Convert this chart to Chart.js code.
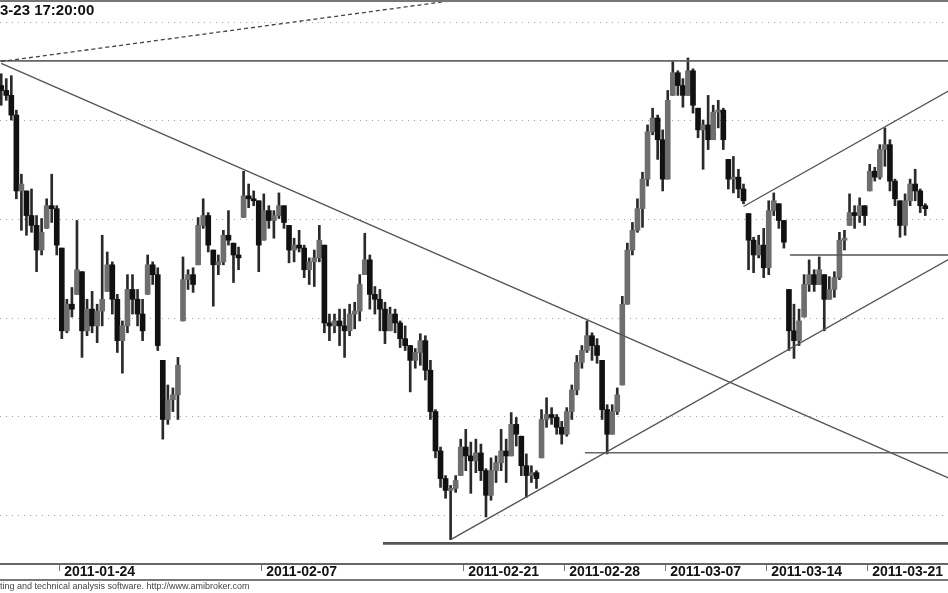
<!DOCTYPE html>
<html><head><meta charset="utf-8">
<script src="https://cdn.jsdelivr.net/npm/chart.js@4.4.1/dist/chart.umd.min.js"></script>
<style>
html,body{margin:0;padding:0;background:#fff;}
#wrap{position:relative;width:948px;height:593px;overflow:hidden;background:#fff;}
#c{position:absolute;left:0;top:0;}
#title{position:absolute;left:0;top:1px;font:bold 15px "Liberation Sans",Arial,sans-serif;line-height:17px;color:#111;white-space:nowrap;}
#foot{position:absolute;left:0;top:582px;font:9px "Liberation Sans",Arial,sans-serif;line-height:9px;color:#444;white-space:nowrap;}
</style></head><body>
<div id="wrap"><canvas id="c" width="948" height="593"></canvas>
<div id="title">3-23 17:20:00</div>
<div id="foot">ting and technical analysis software. http://www.amibroker.com</div></div>
<script>
// week labels and the bar index where each week starts (4 bars per session)
const tickLabels = ['2011-01-24','2011-02-07','2011-02-21','2011-02-28','2011-03-07','2011-03-14','2011-03-21'];
const tickBars = [12, 52, 92, 112, 132, 152, 172];

const highs = [2824,2821.5,2823,2805.5,2773,2764.5,2765.5,2752,2750.5,2760.5,
2773,2757,2735.5,2709.5,2715.5,2749.5,2723.5,2709.5,2713.5,2707,
2742,2733.5,2728.5,2712,2698.5,2722,2722,2714.5,2709.5,2732,
2728.5,2725.5,2678.5,2666,2664.5,2680,2731,2724.5,2725.5,2751,
2760.5,2753.5,2734.5,2732,2744.5,2754.5,2738,2736,2774.5,2768,
2764.5,2759.5,2763,2757,2754.5,2763.5,2757,2747,2740.5,2744.5,
2737,2730.5,2734.5,2747,2737,2702,2702,2704.5,2704.5,2707,
2708,2722,2743,2732,2716,2714.5,2708,2705.5,2704.5,2698.5,
2696,2686,2684.5,2692,2691,2678.5,2653.5,2634.5,2620,2615,
2620,2638.5,2643.5,2637,2638.5,2636,2623.5,2629,2630,2643.5,
2638.5,2652,2649.5,2640,2631,2625,2622.5,2653.5,2659.5,2654.5,
2651,2647.5,2654.5,2666,2681,2686,2698.5,2692.5,2689.5,2678.5,
2656,2656,2664.5,2711,2738,2748.5,2760.5,2774,2798,2806.5,
2803,2795.5,2815.5,2830.5,2825.5,2821.5,2832,2826.5,2806.5,2800.5,
2813,2808,2810.5,2806.5,2780.5,2782,2775.5,2768,2753,2741,
2742,2745.5,2759.5,2763.5,2758,2749.5,2714.5,2707,2704.5,2722,
2729.5,2724.5,2731,2722,2721,2723.5,2743.5,2744.5,2763,2757,
2761,2757,2778,2776.5,2788,2796.5,2790.5,2770.5,2759.5,2763,
2770.5,2775.5,2765.5,2758];

const lows = [2808,2810.5,2800.5,2760.5,2744.5,2742,2743.5,2723.5,2732,2745.5,
2748.5,2732,2689.5,2692.5,2700.5,2712,2680,2691,2692.5,2687.5,
2696,2713.5,2702,2682.5,2672,2692.5,2702,2696,2688.5,2712,
2717,2683.5,2638.5,2646,2652.5,2648.5,2698.5,2714.5,2713,2727,
2745.5,2733.5,2706,2722,2727,2737,2718,2724.5,2751,2756,
2757,2723.5,2739.5,2745.5,2740.5,2750.5,2745.5,2728,2728.5,2733.5,
2720.5,2717,2716,2728.5,2692.5,2688.5,2692.5,2686,2680,2691,
2694.5,2698.5,2722,2704.5,2702,2693.5,2687,2693.5,2692.5,2685,
2683.5,2662.5,2674.5,2676,2668.5,2648.5,2629,2614,2608.5,2587.5,
2611.5,2620,2622.5,2611,2621.5,2617.5,2599,2607.5,2616.5,2622.5,
2616.5,2630,2635,2620,2609,2616.5,2613.5,2629,2644.5,2646,
2641,2636,2640,2648.5,2661,2674.5,2682.5,2678.5,2677,2648.5,
2631,2641,2651,2666,2707,2732,2743.5,2746,2767,2793,
2780.5,2764.5,2770.5,2813,2813,2807,2813,2804,2791.5,2775.5,
2785.5,2790.5,2796.5,2785.5,2765.5,2763.5,2761,2758,2724.5,2723,
2730.5,2720.5,2722,2752,2745.5,2735.5,2683.5,2679.5,2686,2700.5,
2713.5,2713.5,2717,2693.5,2709.5,2710.5,2719.5,2734.5,2747,2745.5,
2748.5,2747,2764.5,2769.5,2770.5,2777,2764.5,2757,2741,2742,
2757,2759.5,2753.5,2752];

const opens = [2818,2815.5,2813,2803,2764.5,2764.5,2752,2747,2734.5,2745.5,
2757,2755.5,2735.5,2693.5,2707,2712,2723.5,2693.5,2704.5,2696,
2703.5,2713.5,2727,2709.5,2688.5,2696,2714.5,2709.5,2702,2712,
2727,2722,2678.5,2648.5,2658.5,2661,2698.5,2719.5,2722,2727,
2747,2752,2734.5,2727,2728.5,2742,2738,2732,2751,2762,
2760.5,2759.5,2739.5,2754.5,2749.5,2752,2757,2747,2734.5,2737,
2735.5,2724.5,2728.5,2730.5,2737,2697.5,2696,2698.5,2696,2693.5,
2702,2703.5,2722,2729.5,2712,2709.5,2704.5,2693.5,2702,2697.5,
2689.5,2686,2678.5,2682.5,2688.5,2673.5,2652.5,2632.5,2618.5,2612.5,
2613.5,2620,2634.5,2630,2627.5,2631.5,2622.5,2610,2622.5,2626.5,
2632.5,2630,2646,2640,2625,2620,2621.5,2629,2648.5,2651,
2649.5,2644.5,2641,2652.5,2663.5,2677.5,2683.5,2691,2686,2678.5,
2653.5,2641,2652.5,2666,2707,2734.5,2744.5,2755.5,2770.5,2794.5,
2801.5,2790.5,2770.5,2813,2824.5,2818,2813,2825.5,2806.5,2795.5,
2798,2790.5,2804.5,2805.5,2780.5,2770.5,2771.5,2765.5,2753,2739.5,
2732,2737,2725.5,2754.5,2758,2749.5,2714.5,2693.5,2688.5,2700.5,
2717,2722,2717,2722,2709.5,2714.5,2720.5,2739.5,2747,2753.5,
2752,2757,2764.5,2774.5,2771.5,2785.5,2788,2769.5,2759.5,2747,
2759.5,2768,2764.5,2757];

const closes = [2815.5,2813,2803,2764.5,2768,2752,2747,2734.5,2743.5,2757,
2755.5,2737,2693.5,2707,2704.5,2724.5,2693.5,2704.5,2696,2703.5,
2709.5,2727,2709.5,2688.5,2696,2714.5,2709.5,2702,2693.5,2727,
2722,2686,2648.5,2658.5,2661,2676,2719.5,2722,2717,2747,
2752,2737,2727,2728.5,2742,2739.5,2732,2730.5,2762,2760.5,
2759.5,2737,2754.5,2749.5,2752,2757,2748.5,2734.5,2737,2735.5,
2724.5,2728.5,2730.5,2739.5,2697.5,2696,2698.5,2696,2693.5,2702,
2703.5,2717,2729.5,2712,2709.5,2704.5,2693.5,2702,2697.5,2689.5,
2686,2678.5,2682.5,2688.5,2673.5,2652.5,2632.5,2618.5,2612.5,2613.5,
2617.5,2634.5,2630,2627.5,2631.5,2622.5,2610,2622.5,2626.5,2632.5,
2630,2646,2641,2625,2620,2621.5,2618.5,2648.5,2651,2649.5,
2644.5,2641,2652.5,2663.5,2677.5,2683.5,2691,2686,2681,2653.5,
2641,2652.5,2661,2707,2734.5,2744.5,2755.5,2770.5,2794.5,2801.5,
2790.5,2770.5,2810.5,2824.5,2818,2813,2825.5,2808,2795.5,2798,
2790.5,2804.5,2805.5,2790.5,2770.5,2771.5,2765.5,2759.5,2739.5,2732,
2737,2725.5,2754.5,2759.5,2749.5,2738.5,2693.5,2688.5,2698.5,2717,
2722,2717,2724.5,2709.5,2714.5,2720.5,2739.5,2740.5,2753.5,2752,
2757,2752,2774.5,2771.5,2785.5,2788,2769.5,2760.5,2747,2759.5,
2768,2764.5,2757,2755.5];

// drawn study lines: [bar index, price] end points
const dashedFan  = [[0, 2830.2], [100, 2864.8]];
const topLevel   = [[-1, 2830.5], [190, 2830.5]];
const downTrend  = [[0, 2829.2], [188, 2618.3]];
const upTrend    = [[89, 2587.5], [188, 2730.3]];
const channelTop = [[147, 2756.6], [188, 2815.8]];
const lowLevel   = [[75.6, 2585.6], [190, 2585.6]];
const midLevel   = [[115.6, 2631.6], [190, 2631.6]];
const highLevel  = [[156.2, 2732], [190, 2732]];

const xy = arr => arr.map(p => ({x: p[0], y: p[1]}));
const lineDs = (arr, color, width, dash) => ({
  type: 'line', data: xy(arr), borderColor: color, borderWidth: width,
  borderDash: dash || [], pointRadius: 0, fill: false, tension: 0, order: 0
});

const frame = {
  id: 'frame',
  afterDraw(c) {
    const {ctx, chartArea: a} = c;
    ctx.save();
    ctx.strokeStyle = '#777';
    ctx.lineWidth = 2;
    ctx.beginPath();
    ctx.moveTo(0, 1); ctx.lineTo(c.width, 1);
    ctx.moveTo(0, a.bottom + 16); ctx.lineTo(c.width, a.bottom + 16);
    ctx.stroke();
    ctx.restore();
  }
};

new Chart(document.getElementById('c'), {
  type: 'bar',
  data: {
    datasets: [
      lineDs(dashedFan, '#444', 1.3, [4, 3]),
      lineDs(topLevel, '#666', 1.6),
      lineDs(downTrend, '#555', 1.4),
      lineDs(upTrend, '#555', 1.4),
      lineDs(channelTop, '#555', 1.4),
      lineDs(lowLevel, '#555', 2.6),
      lineDs(midLevel, '#666', 1.4),
      lineDs(highLevel, '#555', 1.4),
      {
        label: 'body',
        data: opens.map((o, i) => ({x: i, y: [o, closes[i]]})),
        backgroundColor: opens.map((o, i) => closes[i] > o ? '#6e6e6e' : '#111'),
        barThickness: 5, grouped: false, minBarLength: 2, order: 1
      },
      {
        label: 'range',
        data: highs.map((h, i) => ({x: i, y: [lows[i], h]})),
        backgroundColor: '#2a2a2a',
        barThickness: 2, grouped: false, order: 2
      }
    ]
  },
  options: {
    responsive: false,
    animation: false,
    events: [],
    layout: {padding: {left: 0, right: 0, top: 0, bottom: 12}, autoPadding: false},
    plugins: {legend: {display: false}, tooltip: {enabled: false}},
    scales: {
      x: {
        type: 'linear', min: -0.24, max: 187.5, offset: false,
        afterFit: s => { s.height = 17; },
        grid: {display: true, drawOnChartArea: false, drawTicks: true, tickLength: 7, color: '#777', offset: false},
        border: {display: true, color: '#666', width: 2},
        afterBuildTicks: s => { s.ticks = tickBars.map(b => ({value: b - 0.5})); },
        ticks: {
          autoSkip: false, maxRotation: 0, minRotation: 0, align: 'start', labelOffset: 5, padding: -7,
          color: '#111',
          font: {family: '"Liberation Sans", Arial, sans-serif', size: 14, weight: 'bold'},
          callback: (v, i) => tickLabels[i]
        }
      },
      y: {
        type: 'linear', min: 2575.13, max: 2861.42, beginAtZero: false,
        ticks: {display: false, stepSize: 50, includeBounds: false},
        grid: {color: '#a0a0a0', drawTicks: false, lineWidth: 1},
        border: {display: false, dash: [1, 5]}
      }
    }
  },
  plugins: [frame]
});
</script>
</body></html>
